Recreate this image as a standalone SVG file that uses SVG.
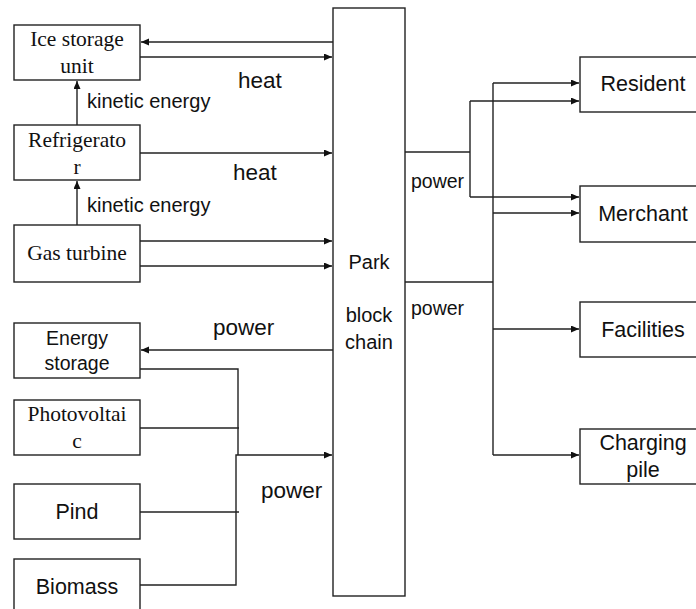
<svg xmlns="http://www.w3.org/2000/svg" width="696" height="609" viewBox="0 0 696 609">
<style>
.box{fill:#fff;stroke:#222;stroke-width:1.4}
.ln{fill:none;stroke:#222;stroke-width:1.4}
.ar{marker-end:url(#ah)}
.serif{font-family:"Liberation Serif","Times New Roman",serif;font-size:21.5px;fill:#111;text-anchor:middle}
.sans{font-family:"Liberation Sans",Arial,sans-serif;fill:#111}
.mid{text-anchor:middle}
</style>
<defs>
<marker id="ah" markerUnits="userSpaceOnUse" markerWidth="9" markerHeight="8" refX="8" refY="3.5" orient="auto">
<path d="M0,0 L8,3.5 L0,7 z" fill="#111"/>
</marker>
</defs>
<rect width="696" height="609" fill="#fff"/>
<g id="connectors">
<line class="ln ar" x1="333" y1="42" x2="141" y2="42"/>
<line class="ln ar" x1="140" y1="57" x2="332" y2="57"/>
<line class="ln ar" x1="77" y1="125" x2="77" y2="81"/>
<line class="ln ar" x1="140" y1="153" x2="332" y2="153"/>
<line class="ln ar" x1="77" y1="225" x2="77" y2="181"/>
<line class="ln ar" x1="140" y1="241" x2="332" y2="241"/>
<line class="ln ar" x1="140" y1="266" x2="332" y2="266"/>
<line class="ln ar" x1="333" y1="350" x2="141" y2="350"/>
<polyline class="ln" points="140,369 238,369 238,455"/>
<line class="ln" x1="140" y1="428" x2="239" y2="428"/>
<line class="ln" x1="140" y1="512" x2="239" y2="512"/>
<polyline class="ln ar" points="140,585 236,585 236,455 332,455"/>
<line class="ln" x1="405" y1="152" x2="470" y2="152"/>
<line class="ln" x1="470" y1="101" x2="470" y2="197"/>
<line class="ln ar" x1="470" y1="101" x2="579" y2="101"/>
<line class="ln ar" x1="470" y1="197" x2="579" y2="197"/>
<line class="ln" x1="405" y1="282" x2="493" y2="282"/>
<line class="ln" x1="493" y1="83" x2="493" y2="455"/>
<line class="ln ar" x1="493" y1="83" x2="579" y2="83"/>
<line class="ln ar" x1="493" y1="213" x2="579" y2="213"/>
<line class="ln ar" x1="493" y1="329" x2="579" y2="329"/>
<line class="ln ar" x1="493" y1="455" x2="579" y2="455"/>
<text class="sans" x="238" y="88" font-size="22.5">heat</text>
<text class="sans" x="87" y="108" font-size="20">kinetic energy</text>
<text class="sans" x="233" y="180" font-size="22.5">heat</text>
<text class="sans" x="87" y="212" font-size="20">kinetic energy</text>
<text class="sans" x="213" y="335" font-size="22.5">power</text>
<text class="sans" x="261" y="498" font-size="22.5">power</text>
<text class="sans" x="411" y="188" font-size="19.5">power</text>
<text class="sans" x="411" y="315" font-size="19.5">power</text>
</g>
<g id="ice-storage">
<rect class="box" x="14" y="25" width="126" height="55"/>
<text class="serif" x="77" y="46">Ice storage</text>
<text class="serif" x="77" y="73">unit</text>
</g>
<g id="refrigerator">
<rect class="box" x="14" y="125" width="126" height="55"/>
<text class="serif" x="77" y="147">Refrigerato</text>
<text class="serif" x="77" y="174">r</text>
</g>
<g id="gas-turbine">
<rect class="box" x="14" y="225" width="126" height="57"/>
<text class="serif" x="77" y="260">Gas turbine</text>
</g>
<g id="energy-storage">
<rect class="box" x="14" y="323" width="126" height="55"/>
<text class="sans mid" x="77" y="345" font-size="19.5">Energy</text>
<text class="sans mid" x="77" y="370" font-size="19.5">storage</text>
</g>
<g id="photovoltaic">
<rect class="box" x="14" y="400" width="126" height="55"/>
<text class="serif" x="77" y="421">Photovoltai</text>
<text class="serif" x="77" y="448">c</text>
</g>
<g id="pind">
<rect class="box" x="14" y="484" width="126" height="55"/>
<text class="sans mid" x="77" y="519" font-size="21.5">Pind</text>
</g>
<g id="biomass">
<rect class="box" x="14" y="559" width="126" height="60"/>
<text class="sans mid" x="77" y="594" font-size="21.5">Biomass</text>
</g>
<g id="park-block-chain">
<rect class="box" x="333" y="8" width="72" height="588"/>
<text class="sans mid" x="369" y="269" font-size="20">Park</text>
<text class="sans mid" x="369" y="322" font-size="20">block</text>
<text class="sans mid" x="369" y="349" font-size="20">chain</text>
</g>
<g id="resident">
<rect class="box" x="580" y="57" width="130" height="55"/>
<text class="sans mid" x="643" y="91" font-size="21.5">Resident</text>
</g>
<g id="merchant">
<rect class="box" x="580" y="186" width="130" height="56"/>
<text class="sans mid" x="643" y="221" font-size="21.5">Merchant</text>
</g>
<g id="facilities">
<rect class="box" x="580" y="302" width="130" height="55"/>
<text class="sans mid" x="643" y="337" font-size="21.5">Facilities</text>
</g>
<g id="charging-pile">
<rect class="box" x="580" y="429" width="130" height="55"/>
<text class="sans mid" x="643" y="450" font-size="21.5">Charging</text>
<text class="sans mid" x="643" y="477" font-size="21.5">pile</text>
</g>
</svg>
